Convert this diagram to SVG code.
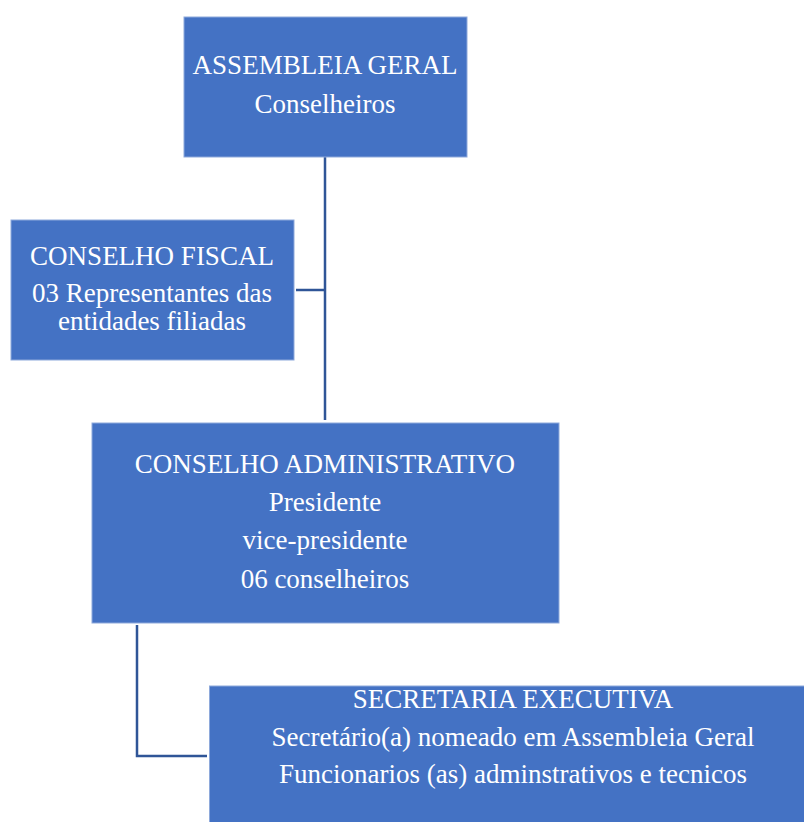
<svg xmlns="http://www.w3.org/2000/svg" width="804" height="822" viewBox="0 0 804 822">
<style>
.box{fill:#4472C4;stroke:#8EA9DB;stroke-width:1}
.t{font-family:"Liberation Serif","Times New Roman",serif;font-size:27px;fill:#FFFFFF;text-anchor:middle}
.conn{fill:none;stroke:#2F5597;stroke-width:2.5}
</style>
<rect width="804" height="822" fill="#FFFFFF"/>
<g id="connectors">
<path class="conn" d="M325,157 V420"/>
<path class="conn" d="M296,290 H325"/>
<path class="conn" d="M137,625 V756 H207"/>
</g>
<g id="assembleia">
<rect class="box" x="184" y="17" width="283" height="140"/>
<text class="t" x="325" y="74">ASSEMBLEIA GERAL</text>
<text class="t" x="325" y="113">Conselheiros</text>
</g>
<g id="fiscal">
<rect class="box" x="11" y="220" width="283" height="140"/>
<text class="t" x="152" y="265">CONSELHO FISCAL</text>
<text class="t" x="152" y="302">03 Representantes das</text>
<text class="t" x="152" y="330">entidades filiadas</text>
</g>
<g id="administrativo">
<rect class="box" x="92" y="423" width="467" height="200"/>
<text class="t" x="325" y="473">CONSELHO ADMINISTRATIVO</text>
<text class="t" x="325" y="511">Presidente</text>
<text class="t" x="325" y="549">vice-presidente</text>
<text class="t" x="325" y="588">06 conselheiros</text>
</g>
<g id="secretaria">
<rect class="box" x="209.5" y="686" width="600" height="140"/>
<text class="t" x="513" y="708">SECRETARIA EXECUTIVA</text>
<text class="t" x="513" y="746">Secretário(a) nomeado em Assembleia Geral</text>
<text class="t" x="513" y="783">Funcionarios (as) adminstrativos e tecnicos</text>
</g>
</svg>
